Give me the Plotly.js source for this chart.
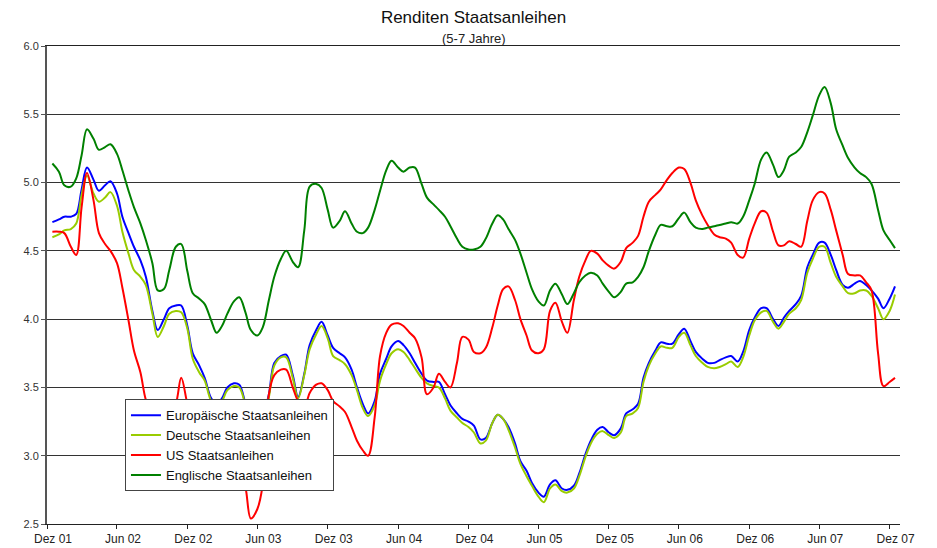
<!DOCTYPE html>
<html>
<head>
<meta charset="utf-8">
<script src="https://cdn.plot.ly/plotly-3.0.1.min.js"></script>
<style>html,body{margin:0;padding:0;background:#fff;}#chart{width:937px;height:548px;}</style>
</head>
<body>
<div id="chart"></div>
<script>
const dates = [
"2001-12-15","2002-01-01","2002-01-15","2002-02-01","2002-02-15","2002-03-01","2002-03-15","2002-04-01","2002-04-15","2002-05-01","2002-05-15","2002-06-01",
"2002-06-15","2002-07-01","2002-07-15","2002-08-01","2002-08-15","2002-09-01","2002-09-15","2002-10-01","2002-10-15","2002-11-01","2002-11-15","2002-12-01",
"2002-12-15","2003-01-01","2003-01-15","2003-02-01","2003-02-15","2003-03-01","2003-03-15","2003-04-01","2003-04-15","2003-05-01","2003-05-15","2003-06-01",
"2003-06-15","2003-07-01","2003-07-15","2003-08-01","2003-08-15","2003-09-01","2003-09-15","2003-10-01","2003-10-15","2003-11-01","2003-11-15","2003-12-01",
"2003-12-15","2004-01-01","2004-01-15","2004-02-01","2004-02-15","2004-03-01","2004-03-15","2004-04-01","2004-04-15","2004-05-01","2004-05-15","2004-06-01",
"2004-06-15","2004-07-01","2004-07-15","2004-08-01","2004-08-15","2004-09-01","2004-09-15","2004-10-01","2004-10-15","2004-11-01","2004-11-15","2004-12-01",
"2004-12-15","2005-01-01","2005-01-15","2005-02-01","2005-02-15","2005-03-01","2005-03-15","2005-04-01","2005-04-15","2005-05-01","2005-05-15","2005-06-01",
"2005-06-15","2005-07-01","2005-07-15","2005-08-01","2005-08-15","2005-09-01","2005-09-15","2005-10-01","2005-10-15","2005-11-01","2005-11-15","2005-12-01",
"2005-12-15","2006-01-01","2006-01-15","2006-02-01","2006-02-15","2006-03-01","2006-03-15","2006-04-01","2006-04-15","2006-05-01","2006-05-15","2006-06-01",
"2006-06-15","2006-07-01","2006-07-15","2006-08-01","2006-08-15","2006-09-01","2006-09-15","2006-10-01","2006-10-15","2006-11-01","2006-11-15","2006-12-01",
"2006-12-15","2007-01-01","2007-01-15","2007-02-01","2007-02-15","2007-03-01","2007-03-15","2007-04-01","2007-04-15","2007-05-01","2007-05-15","2007-06-01",
"2007-06-15","2007-07-01","2007-07-15","2007-08-01","2007-08-15","2007-09-01","2007-09-15","2007-10-01","2007-10-15","2007-11-01","2007-11-15","2007-12-01",
"2007-12-15"];

const europa = [
4.71,4.73,4.75,4.75,4.77,4.95,5.11,5.02,4.94,4.98,5.01,4.92,
4.75,4.63,4.53,4.43,4.31,4.06,3.92,4.00,4.08,4.10,4.10,3.95,
3.75,3.66,3.57,3.42,3.38,3.42,3.50,3.53,3.52,3.38,3.25,3.20,
3.28,3.45,3.68,3.73,3.74,3.59,3.43,3.60,3.81,3.92,3.98,3.88,
3.79,3.75,3.72,3.63,3.50,3.38,3.31,3.40,3.60,3.71,3.80,3.84,
3.81,3.75,3.68,3.60,3.55,3.54,3.54,3.45,3.37,3.31,3.27,3.25,
3.22,3.12,3.13,3.24,3.30,3.27,3.21,3.09,2.96,2.89,2.80,2.73,
2.70,2.79,2.82,2.76,2.75,2.78,2.87,3.01,3.11,3.19,3.21,3.17,
3.15,3.20,3.31,3.34,3.38,3.57,3.68,3.77,3.83,3.82,3.82,3.89,
3.93,3.84,3.76,3.71,3.68,3.68,3.70,3.72,3.73,3.69,3.76,3.92,
4.01,4.08,4.08,4.00,3.95,4.01,4.06,4.11,4.17,4.38,4.47,4.56,
4.56,4.47,4.36,4.25,4.23,4.26,4.28,4.25,4.21,4.15,4.08,4.15,
4.24];

const deutsch = [
4.60,4.62,4.65,4.66,4.70,4.91,5.05,4.92,4.86,4.89,4.93,4.83,
4.64,4.48,4.36,4.31,4.25,4.04,3.87,3.95,4.04,4.06,4.05,3.93,
3.71,3.61,3.55,3.40,3.36,3.40,3.48,3.51,3.50,3.37,3.24,3.19,
3.27,3.43,3.66,3.72,3.72,3.57,3.42,3.59,3.78,3.89,3.95,3.86,
3.73,3.70,3.67,3.59,3.48,3.35,3.29,3.37,3.55,3.67,3.75,3.78,
3.76,3.70,3.64,3.57,3.53,3.51,3.50,3.42,3.33,3.28,3.24,3.21,
3.17,3.09,3.11,3.24,3.30,3.27,3.19,3.06,2.94,2.85,2.78,2.70,
2.66,2.76,2.79,2.74,2.73,2.76,2.85,2.99,3.09,3.16,3.18,3.15,
3.13,3.17,3.29,3.31,3.35,3.54,3.66,3.75,3.80,3.79,3.79,3.87,
3.90,3.81,3.73,3.68,3.65,3.64,3.65,3.67,3.69,3.65,3.72,3.88,
3.99,4.05,4.06,3.98,3.93,3.98,4.04,4.08,4.14,4.34,4.44,4.53,
4.53,4.41,4.31,4.24,4.19,4.19,4.21,4.21,4.17,4.08,4.00,4.06,
4.18];

const usa = [
4.64,4.64,4.63,4.53,4.47,4.82,5.07,4.87,4.63,4.55,4.50,4.41,
4.23,3.99,3.77,3.61,3.41,3.30,3.25,3.25,3.30,3.38,3.57,3.38,
3.25,3.20,3.15,3.10,3.05,3.00,2.98,2.95,2.90,2.77,2.54,2.61,
2.79,3.45,3.59,3.63,3.63,3.50,3.40,3.35,3.46,3.52,3.53,3.48,
3.40,3.36,3.32,3.21,3.11,3.04,3.00,3.28,3.73,3.90,3.96,3.97,
3.95,3.90,3.86,3.72,3.45,3.50,3.60,3.54,3.50,3.68,3.87,3.85,
3.76,3.75,3.79,3.94,4.10,4.22,4.24,4.14,4.00,3.88,3.77,3.75,
3.78,4.06,4.12,3.98,3.90,4.14,4.31,4.43,4.50,4.48,4.43,4.39,
4.37,4.42,4.52,4.56,4.61,4.75,4.86,4.91,4.95,5.02,5.07,5.11,
5.10,5.00,4.87,4.76,4.69,4.62,4.60,4.59,4.56,4.47,4.45,4.59,
4.70,4.79,4.78,4.64,4.54,4.54,4.57,4.55,4.53,4.72,4.87,4.93,
4.92,4.80,4.65,4.47,4.33,4.32,4.32,4.27,4.21,3.75,3.51,3.54,
3.57];

const england = [
5.14,5.08,4.98,4.97,5.03,5.20,5.39,5.32,5.24,5.26,5.28,5.21,
5.09,4.94,4.82,4.70,4.58,4.41,4.21,4.22,4.36,4.53,4.55,4.35,
4.19,4.15,4.11,3.99,3.90,3.95,4.04,4.13,4.16,4.05,3.92,3.88,
3.94,4.14,4.31,4.44,4.50,4.42,4.38,4.65,4.97,4.99,4.96,4.80,
4.67,4.72,4.79,4.70,4.64,4.63,4.67,4.80,4.94,5.09,5.16,5.11,
5.08,5.11,5.11,4.99,4.89,4.84,4.80,4.75,4.68,4.59,4.53,4.51,
4.51,4.53,4.59,4.70,4.76,4.73,4.66,4.58,4.48,4.34,4.22,4.13,
4.10,4.21,4.26,4.18,4.11,4.19,4.27,4.32,4.34,4.32,4.26,4.20,
4.16,4.20,4.26,4.27,4.31,4.38,4.50,4.62,4.69,4.68,4.68,4.74,
4.78,4.71,4.67,4.66,4.67,4.68,4.69,4.70,4.71,4.70,4.75,4.87,
4.99,5.17,5.22,5.13,5.04,5.09,5.19,5.22,5.26,5.37,5.49,5.64,
5.70,5.58,5.39,5.27,5.18,5.11,5.07,5.04,4.99,4.80,4.65,4.58,
4.52];

const seriesNames = ["Europäische Staatsanleihen","Deutsche Staatsanleihen","US Staatsanleihen","Englische Staatsanleihen"];
const seriesColors = ["#0000FF","#99CC00","#FF0000","#008000"];
const tickDates = ["2001-12-01","2002-06-01","2002-12-01","2003-06-01","2003-12-01","2004-06-01","2004-12-01","2005-06-01","2005-12-01","2006-06-01","2006-12-01","2007-06-01","2007-12-01"];
const tickLabels = ["Dez 01","Jun 02","Dez 02","Jun 03","Dez 03","Jun 04","Dez 04","Jun 05","Dez 05","Jun 06","Dez 06","Jun 07","Dez 07"];
const yTicks = [2.5,3.0,3.5,4.0,4.5,5.0,5.5,6.0];
const yTickLabels = ["2.5","3.0","3.5","4.0","4.5","5.0","5.5","6.0"];

const values = [europa, deutsch, usa, england];
const traces = values.map((v, i) => ({
  x: dates, y: v, type: "scatter", mode: "lines", name: seriesNames[i],
  line: {color: seriesColors[i], width: 2, shape: "spline", smoothing: 1}
}));

const FONT = "Liberation Sans, Arial, sans-serif";
const layout = {
  width: 937, height: 548,
  margin: {l: 47, r: 37, t: 46, b: 24},
  paper_bgcolor: "#fff", plot_bgcolor: "#fff",
  font: {family: FONT, color: "#222"},
  title: {text: "Renditen Staatsanleihen", font: {size: 17, family: FONT, color: "#111"},
          xref: "paper", x: 0.5, xanchor: "center", yref: "container", y: 0.969, yanchor: "middle"},
  annotations: [{text: "(5-7 Jahre)", xref: "paper", yref: "paper", x: 0.5, y: 1.016,
                 xanchor: "center", yanchor: "middle", showarrow: false, font: {size: 13, family: FONT, color: "#222"}}],
  xaxis: {type: "date", range: ["2001-12-01", "2007-12-28"], tickvals: tickDates, ticktext: tickLabels,
          showgrid: false, zeroline: false, showline: true, linecolor: "#222", linewidth: 1, mirror: true,
          ticks: "outside", ticklen: 4, tickcolor: "#222", tickfont: {size: 12, family: FONT, color: "#222"},
          ticklabelshift: 6, ticklabelstandoff: 0},
  yaxis: {range: [2.5, 6.0], tickvals: yTicks, ticktext: yTickLabels, showgrid: true, gridcolor: "#333", gridwidth: 1,
          zeroline: false, showline: true, linecolor: "#555", linewidth: 2, ticks: "outside", ticklen: 4, tickcolor: "#555",
          tickfont: {size: 11, family: FONT, color: "#333"}},
  yaxis2: {range: [2.5, 6.0], tickvals: yTicks, ticktext: yTickLabels, overlaying: "y", side: "right", showgrid: false,
           zeroline: false, showline: true, linecolor: "#555", linewidth: 2, ticks: "outside", ticklen: 4, tickcolor: "#555",
           tickfont: {size: 11, family: FONT, color: "#333"}},
  showlegend: true,
  legend: {x: 0.0914, y: 0.261, xanchor: "left", yanchor: "top", bgcolor: "#fff", bordercolor: "#444", borderwidth: 1,
           font: {size: 13, family: FONT, color: "#111"}, tracegroupgap: 0}
};

Plotly.newPlot("chart", traces, layout, {displayModeBar: false, staticPlot: true});
</script>
</body>
</html>
